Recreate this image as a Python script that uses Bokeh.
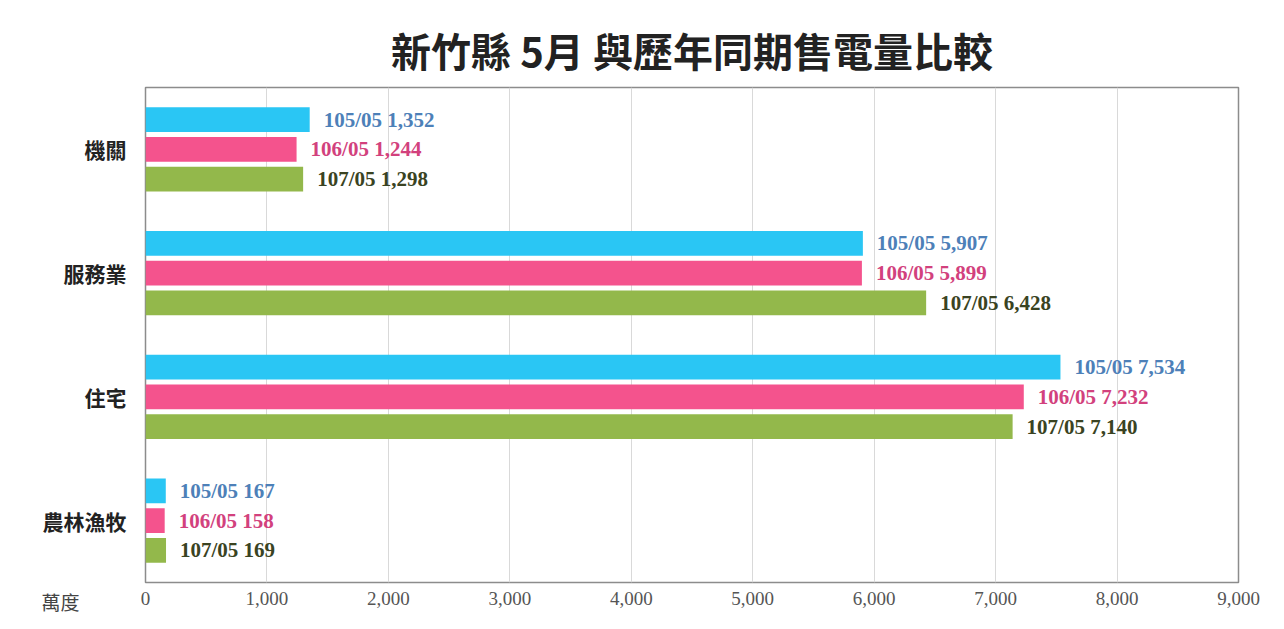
from bokeh.plotting import figure
from bokeh.models import FactorRange, NumeralTickFormatter, Label, FixedTicker, ColumnDataSource
from bokeh.transform import dodge
from bokeh.core.properties import value
from bokeh.embed import file_html
from bokeh.resources import INLINE

categories = ["機關", "服務業", "住宅", "農林漁牧"]
periods = ["105/05", "106/05", "107/05"]
v105 = [1352, 5907, 7534, 167]
v106 = [1244, 5899, 7232, 158]
v107 = [1298, 6428, 7140, 169]
x_ticks = [0, 1000, 2000, 3000, 4000, 5000, 6000, 7000, 8000, 9000]

bar_colors = ["#2ac6f4", "#f4538d", "#93b84b"]
text_colors = ["#4d80b8", "#d2417d", "#3a4322"]
offsets = [0.24, 0.0, -0.24]

p = figure(width=1268, height=613, output_backend="svg", toolbar_location=None,
           y_range=FactorRange(*list(reversed(categories))), x_range=(0, 9000))
p.min_border_left = 145
p.min_border_right = 30
p.min_border_top = 87
p.min_border_bottom = 31

p.title.text = "新竹縣 5月 與歷年同期售電量比較"
p.title.align = "center"
p.title.text_font = "Noto Sans CJK TC"
p.title.text_font_size = "40px"
p.title.text_font_style = "bold"
p.title.text_color = "#222222"
p.title.offset = 0
p.title.standoff = 17

for vals, per, bc, tc, off in zip([v105, v106, v107], periods, bar_colors, text_colors, offsets):
    src = ColumnDataSource(dict(cat=categories, val=vals,
                                lab=[f"{per} {v:,}" for v in vals]))
    p.hbar(y=dodge("cat", off, range=p.y_range), right="val", left=0, height=0.2,
           source=src, fill_color=bc, line_color=None)
    p.text(x="val", y=dodge("cat", off, range=p.y_range), text="lab", source=src,
           x_offset=14, text_baseline="middle", text_align="left",
           text_font=value("Liberation Serif"), text_font_size="21px",
           text_font_style="bold", text_color=tc)

p.xaxis.ticker = FixedTicker(ticks=x_ticks)
p.xaxis.formatter = NumeralTickFormatter(format="0,0")
p.xaxis.major_label_text_font = "Liberation Serif"
p.xaxis.major_label_text_font_size = "19px"
p.xaxis.major_label_text_color = "#555555"
p.xaxis.major_label_standoff = 9
p.xaxis.major_tick_out = 0
p.xaxis.axis_line_color = None
p.xaxis.major_tick_line_color = None
p.xaxis.minor_tick_line_color = None

p.yaxis.major_label_text_font = "Noto Sans CJK TC"
p.yaxis.major_label_text_font_size = "21px"
p.yaxis.major_label_text_font_style = "bold"
p.yaxis.major_label_text_color = "#222222"
p.yaxis.major_label_standoff = 19
p.yaxis.major_tick_out = 0
p.yaxis.axis_line_color = None
p.yaxis.major_tick_line_color = None

p.xgrid.grid_line_color = "#d9d9d9"
p.ygrid.grid_line_color = None
p.outline_line_color = "#8c8c8c"
p.outline_line_width = 1.5

unit = Label(x=40, y=-19, x_units="screen", y_units="screen", text="萬度",
             text_font="Noto Sans CJK TC", text_font_size="19px",
             text_color="#444444", text_baseline="middle")
p.add_layout(unit, "left")

open("out.html", "w").write(file_html(p, INLINE))
